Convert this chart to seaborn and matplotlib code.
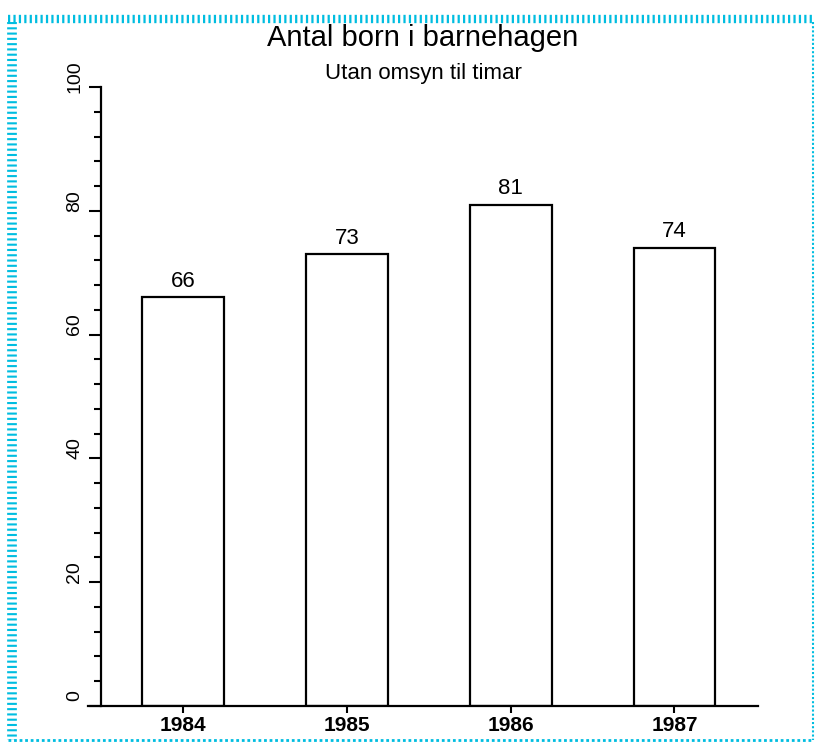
import matplotlib
matplotlib.use("Agg")
import matplotlib.pyplot as plt
from matplotlib.lines import Line2D
from matplotlib.ticker import MultipleLocator
from matplotlib.transforms import ScaledTranslation
import pandas as pd
import seaborn as sns

# data
years = ["1984", "1985", "1986", "1987"]
children = [66, 73, 81, 74]
y_ticks = [0, 20, 40, 60, 80, 100]

title = "Antal born i barnehagen"
subtitle = "Utan omsyn til timar"

df = pd.DataFrame({"year": years, "born": children})

sns.set_style("ticks")
plt.rcParams["font.family"] = ["Liberation Sans", "DejaVu Sans"]
plt.rcParams["text.color"] = "black"
plt.rcParams["lines.scale_dashes"] = False

W, H = 816, 742
fig = plt.figure(figsize=(W / 100, H / 100), dpi=100)
ax = fig.add_axes([88 / W, 1 - 706 / H, 670 / W, 619 / H])

sns.barplot(data=df, x="year", y="born", color="white", edgecolor="black",
            linewidth=1.6, width=0.5, saturation=1, ax=ax)

ax.set_xlim(-0.58, 3.51)
ax.set_ylim(0, 100)
ax.set_xlabel("")
ax.set_ylabel("")

# value labels above bars
for c in ax.containers:
    ax.bar_label(c, labels=[str(v) for v in children], padding=4,
                 fontsize=16, color="black")

# axes styling
for s in ["top", "right"]:
    ax.spines[s].set_visible(False)
ax.spines["left"].set_position(("data", -0.5))
for s in ["left", "bottom"]:
    ax.spines[s].set_linewidth(1.6)
    ax.spines[s].set_color("black")

ax.set_yticks(y_ticks)
ax.set_yticklabels([str(t) for t in y_ticks], rotation=90, va="center", fontsize=14)
ax.yaxis.set_minor_locator(MultipleLocator(4))
ax.tick_params(axis="y", which="major", length=9, width=1.5, pad=4, colors="black")
ax.tick_params(axis="y", which="minor", length=5, width=1.5, colors="black")
ax.tick_params(axis="x", which="major", length=5, width=1.5, pad=2, colors="black")
for lab in ax.get_xticklabels():
    lab.set_fontsize(15)
    lab.set_fontweight("bold")

# y labels sit a little above their ticks in the original
shift = ScaledTranslation(0, 0.1, fig.dpi_scale_trans)
for lab in ax.get_yticklabels():
    lab.set_transform(lab.get_transform() + shift)

fig.text(423 / W, 1 - 38 / H, title, ha="center", va="center", fontsize=21)
fig.text(423 / W, 1 - 73 / H, subtitle, ha="center", va="center", fontsize=16)

# dotted cyan frame around the picture
cyan = "#00bde0"
fig.add_artist(Line2D([8 / W, 812 / W], [1 - 19 / H] * 2, color=cyan, lw=6,
                      dashes=(1.6, 2.3)))
fig.add_artist(Line2D([12 / W] * 2, [1 - 22 / H, 1 - 740 / H], color=cyan, lw=7,
                      dashes=(1.5, 2.3)))
fig.add_artist(Line2D([813 / W] * 2, [1 - 22 / H, 1 - 740 / H], color=cyan, lw=1.5,
                      dashes=(1.5, 1.5)))
fig.add_artist(Line2D([8 / W, 812 / W], [1 - 740 / H] * 2, color=cyan, lw=2,
                      dashes=(2, 2)))

fig.savefig("out.png", dpi=100)
